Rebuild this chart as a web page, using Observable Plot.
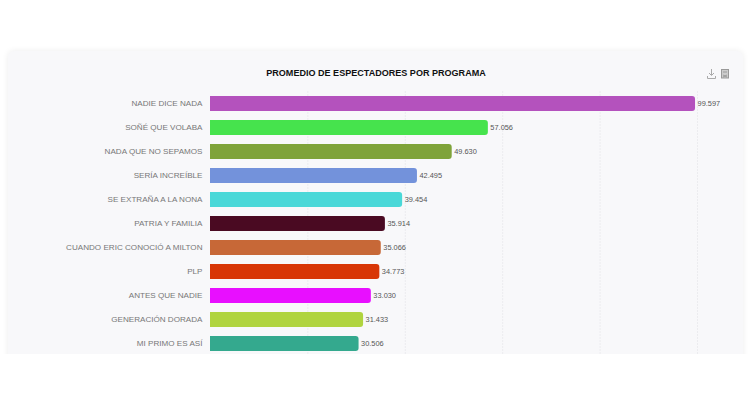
<!DOCTYPE html>
<html lang="es">
<head>
<meta charset="utf-8">
<script src="https://cdn.jsdelivr.net/npm/d3@7"></script>
<script src="https://cdn.jsdelivr.net/npm/@observablehq/plot@0.6"></script>
<style>
html,body{margin:0;padding:0;background:#fff;}
#stage{position:relative;width:750px;height:400px;overflow:hidden;background:#fff;font-family:"Liberation Sans",Arial,sans-serif;}
#clip{position:absolute;left:0;top:0;width:750px;height:354px;overflow:hidden;}
#card{position:absolute;left:8px;top:51px;width:735px;height:340px;background:#f8f8fa;border-radius:6px;box-shadow:0 0 6px rgba(0,0,0,.08);}
#chart{position:absolute;left:0;top:0;}
#chart svg{display:block;background:transparent;}
#title{position:absolute;left:8px;width:736px;top:66px;text-align:center;font-size:9.05px;line-height:14px;font-weight:bold;color:#111;}
#icons{position:absolute;left:706px;top:68px;}
</style>
</head>
<body>
<div id="stage">
  <div id="clip">
    <div id="card"></div>
    <div id="title">PROMEDIO DE ESPECTADORES POR PROGRAMA</div>
    <div id="chart"></div>
    <svg id="icons" width="26" height="12" viewBox="0 0 26 12" fill="none" stroke="#aaa" stroke-width="1">
      <path d="M5.500 1v6M3 5l2.500 2.500L8 5M1.500 8v2.500h8V8"/>
      <rect x="15.500" y="1.500" width="7" height="8.500" fill="#ccc" stroke="#999"/>
      <path d="M17 4h4M17 7l4 2M21 7l-4 2" stroke="#888" stroke-width=".7"/>
    </svg>
  </div>
</div>
<script>
const programas = ["NADIE DICE NADA","SOÑÉ QUE VOLABA","NADA QUE NO SEPAMOS","SERÍA INCREÍBLE","SE EXTRAÑA A LA NONA","PATRIA Y FAMILIA","CUANDO ERIC CONOCIÓ A MILTON","PLP","ANTES QUE NADIE","GENERACIÓN DORADA","MI PRIMO ES ASÍ"];
const espectadores = [99597,57056,49630,42495,39454,35914,35066,34773,33030,31433,30506];
const colores = ["#b452bd","#46e34d","#7fa33a","#7392db","#4ad8d8","#4a0a22","#c76837","#d83606","#e80fff","#b0d43f","#34a98e"];
const grilla = [0,20000,40000,60000,80000,100000];
const filas = programas.map((p,i)=>({programa:p,valor:espectadores[i],color:colores[i]}));
const miles = v => String(v).replace(/\B(?=(\d{3})+$)/g,".");

const chart = Plot.plot({
  width:750, height:355,
  marginTop:91, marginBottom:0, marginLeft:210, marginRight:53,
  style:{background:"transparent",fontFamily:"'Liberation Sans',Arial,sans-serif"},
  x:{domain:[0,100000],axis:null},
  y:{domain:programas,axis:null,paddingInner:0.375,paddingOuter:0.1875,align:0.5},
  marks:[
    Plot.ruleX(grilla.slice(1),{stroke:"#ececef",strokeDasharray:"2,1",strokeWidth:1}),
    Plot.barX(filas,{x:"valor",y:"programa",fill:d=>d.color,rx2:3}),
    Plot.text(filas,{x:0,y:"programa",text:"programa",textAnchor:"end",dx:-8,dy:-0.5,fontSize:8.1,fill:"#777"}),
    Plot.text(filas,{x:"valor",y:"programa",text:d=>miles(d.valor),textAnchor:"start",dx:2,dy:0,fontSize:7.4,fill:"#555"})
  ]
});
document.getElementById("chart").appendChild(chart);
</script>
</body>
</html>
